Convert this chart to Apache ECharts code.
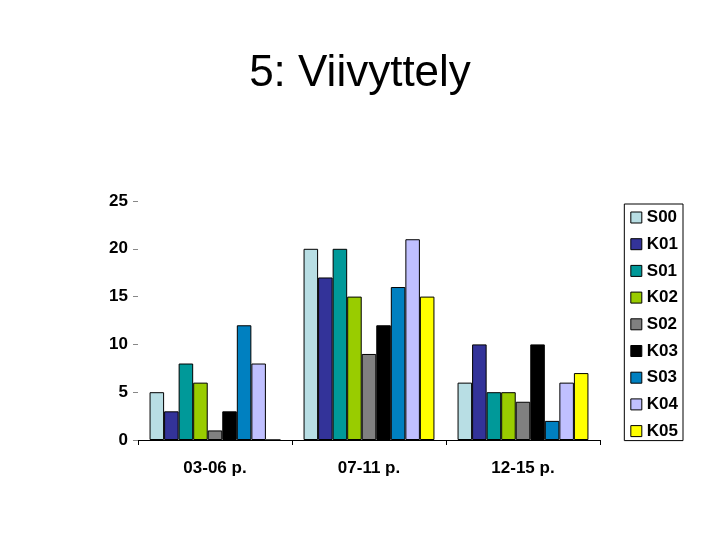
<!DOCTYPE html>
<html><head><meta charset="utf-8">
<script src="https://cdn.jsdelivr.net/npm/echarts@6/dist/echarts.min.js"></script>
<style>html,body{margin:0;padding:0;background:#fff}#c{width:720px;height:540px}</style>
</head><body><div id="c"></div>
<script>
const categories = ['03-06 p.', '07-11 p.', '12-15 p.'];
const seriesNames = ['S00','K01','S01','K02','S02','K03','S03','K04','K05'];
const S00 = [5, 20, 6];
const K01 = [3, 17, 10];
const S01 = [8, 20, 5];
const K02 = [6, 15, 5];
const S02 = [1, 9, 4];
const K03 = [3, 12, 10];
const S03 = [12, 16, 2];
const K04 = [8, 21, 6];
const K05 = [0, 15, 7];
const values = [S00, K01, S01, K02, S02, K03, S03, K04, K05];
const colors = ['#B8DEE4','#333399','#009999','#99CC00','#808080','#000000','#0080C0','#C0C0FF','#FFFF00'];

const chart = echarts.init(document.getElementById('c'), null, {renderer:'canvas'});
chart.setOption({
  animation: false,
  backgroundColor: '#fff',
  title: {
    text: '5: Viivyttely', left: 'center', top: 47,
    textStyle: {fontFamily: 'Liberation Sans, Arial', fontSize: 44, fontWeight: 'normal', color: '#000'}
  },
  legend: {
    orient: 'vertical', right: 37, top: 204,
    data: seriesNames,
    itemWidth: 11, itemHeight: 11, itemGap: 9.7,
    padding: [5, 5, 1, 6],
    borderColor: '#000', borderWidth: 1,
    icon: 'rect',
    textStyle: {fontFamily: 'Liberation Sans, Arial', fontSize: 17, fontWeight: 'bold', color: '#000', padding: [0,0,0,0], lineHeight: 17},
    itemStyle: {borderColor: '#000', borderWidth: 1}
  },
  grid: {left: 138, right: 120, top: 201, bottom: 100, containLabel: false},
  xAxis: {
    type: 'category', data: categories,
    axisLine: {show: true, lineStyle: {color: '#000', width: 1}},
    axisTick: {show: true, length: 5, lineStyle: {color: '#000'}},
    axisLabel: {fontFamily: 'Liberation Sans, Arial', fontSize: 17, fontWeight: 'bold', color: '#000', margin: 20}
  },
  yAxis: {
    type: 'value', min: 0, max: 25, interval: 5,
    axisLine: {show: false},
    axisTick: {show: true, length: 5, lineStyle: {color: '#888'}},
    splitLine: {show: false},
    axisLabel: {fontFamily: 'Liberation Sans, Arial', fontSize: 17, fontWeight: 'bold', color: '#000', margin: 10}
  },
  series: seriesNames.map((n, i) => ({
    name: n, type: 'bar', data: values[i],
    barGap: '0%', barCategoryGap: '15%',
    itemStyle: {color: colors[i], borderColor: '#000', borderWidth: 1}
  }))
});
</script></body></html>
